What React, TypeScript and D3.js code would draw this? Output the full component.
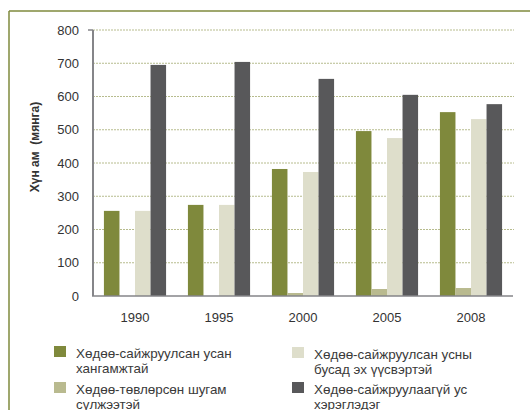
import React, { useEffect, useRef } from "react";
import * as d3 from "d3";

const years = ["1990", "1995", "2000", "2005", "2008"];
const seriesNames = [
  ["Хөдөө-сайжруулсан усан", "хангамжтай"],
  ["Хөдөө-төвлөрсөн шугам", "сүлжээтэй"],
  ["Хөдөө-сайжруулсан усны", "бусад эх үүсвэртэй"],
  ["Хөдөө-сайжруулаагүй ус", "хэрэглэдэг"],
];
const improvedSupply = [256, 274, 382, 496, 553];
const centralPipe = [0, 0, 9, 21, 24];
const otherImproved = [256, 274, 373, 475, 532];
const unimproved = [695, 704, 653, 605, 577];
const yTicks = [0, 100, 200, 300, 400, 500, 600, 700, 800];
const colors = ["#7f893c", "#b9ba8f", "#dedecb", "#58585a"];

const width = 530;
const height = 410;

const App = () => {
  const svgRef = useRef<SVGSVGElement>(null);

  useEffect(() => {
    const svg = d3.select(svgRef.current);
    svg.selectAll("*").remove();

    const values = [improvedSupply, centralPipe, otherImproved, unimproved];
    const left = 93;
    const right = 513;
    const top = 30;
    const bottom = 296;
    const font = "'Liberation Sans', Arial, sans-serif";

    // frame
    svg.append("line").attr("x1", 9).attr("x2", width).attr("y1", 11).attr("y2", 11)
      .attr("stroke", "#7f8a3c").attr("stroke-width", 1.5);
    svg.append("line").attr("x1", 9).attr("x2", 9).attr("y1", 11).attr("y2", height)
      .attr("stroke", "#7f8a3c").attr("stroke-width", 1.5);

    const x = d3.scaleBand().domain(years).range([left, right])
      .paddingInner(0.26).paddingOuter(0.13);
    const sub = d3.scaleBand().domain(["0", "1", "2", "3"]).range([0, x.bandwidth()]);
    const y = d3.scaleLinear().domain([0, 800]).range([bottom, top]);

    // gridlines
    svg.append("g").selectAll("line")
      .data(yTicks.filter((d) => d > 0))
      .join("line")
      .attr("x1", left).attr("x2", right + 1)
      .attr("y1", (d) => y(d)).attr("y2", (d) => y(d))
      .attr("stroke", "#b7bc8e").attr("stroke-dasharray", "2,1");

    // bars
    values.forEach((vals, i) => {
      svg.append("g").selectAll("rect")
        .data(vals)
        .join("rect")
        .attr("x", (_, j) => (x(years[j]) as number) + (sub(String(i)) as number))
        .attr("width", sub.bandwidth())
        .attr("y", (d) => y(d))
        .attr("height", (d) => bottom - y(d))
        .attr("fill", colors[i]);
    });

    // axes
    const yAxis = svg.append("g").attr("transform", `translate(${left},0)`)
      .call(d3.axisLeft(y).tickValues(yTicks).tickSize(0).tickPadding(14));
    yAxis.select(".domain").remove();
    yAxis.selectAll("text").attr("font-family", font).attr("font-size", 13).attr("fill", "#333");
    svg.append("line").attr("x1", left).attr("x2", left).attr("y1", top).attr("y2", bottom)
      .attr("stroke", "#858589").attr("stroke-width", 2);
    svg.append("line").attr("x1", left - 5).attr("x2", left).attr("y1", top).attr("y2", top)
      .attr("stroke", "#858589").attr("stroke-width", 1.5);
    svg.append("line").attr("x1", left - 1).attr("x2", right).attr("y1", bottom).attr("y2", bottom)
      .attr("stroke", "#858589").attr("stroke-width", 1.5);

    const xAxis = svg.append("g").attr("transform", `translate(0,${bottom})`)
      .call(d3.axisBottom(x).tickSize(0).tickPadding(17));
    xAxis.select(".domain").remove();
    xAxis.selectAll("text").attr("font-family", font).attr("font-size", 13).attr("fill", "#333");

    // y label
    svg.append("text")
      .attr("transform", "translate(39,147) rotate(-90)")
      .attr("text-anchor", "middle")
      .attr("font-family", font).attr("font-size", 12).attr("font-weight", "bold")
      .attr("fill", "#333")
      .style("white-space", "pre")
      .text("Хүн ам  (мянга)");

    // legend
    const legendPos = [
      [54, 346],
      [54, 382],
      [292, 347],
      [292, 382],
    ];
    seriesNames.forEach((lines, i) => {
      const [lx, ly] = legendPos[i];
      const g = svg.append("g").attr("transform", `translate(${lx},${ly})`);
      g.append("rect").attr("width", 12).attr("height", 11).attr("fill", colors[i]);
      lines.forEach((t, k) => {
        g.append("text").attr("x", 22).attr("y", 12 + k * 14.5)
          .attr("font-family", font).attr("font-size", 13.4).attr("fill", "#3a3a3a")
          .text(t);
      });
    });
  }, []);

  return (
    <svg
      ref={svgRef}
      width={width}
      height={height}
      style={{ position: "absolute", left: 0, top: 0, background: "#fff" }}
    ></svg>
  );
};

export default App;
